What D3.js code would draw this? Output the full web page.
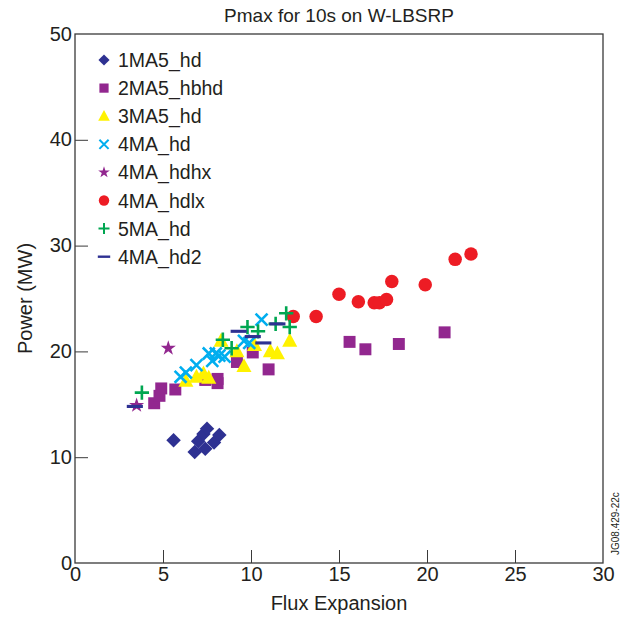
<!DOCTYPE html>
<html>
<head>
<meta charset="utf-8">
<script src="https://cdn.jsdelivr.net/npm/d3@7"></script>
<style>
  body { margin: 0; background: #fff; }
  text { font-family: "Liberation Sans", Arial, sans-serif; fill: #231f20; }
</style>
</head>
<body>
<svg id="chart" width="626" height="619"></svg>
<script>
// series data: [flux expansion, power MW]
const ma1Hd = [[5.6, 11.6], [6.8, 10.5], [7.0, 11.5], [7.3, 12.2], [7.5, 12.7], [7.4, 10.8], [7.9, 11.4], [8.2, 12.1]]
const ma2Hbhd = [[4.5, 15.1], [4.8, 15.8], [4.9, 16.5], [5.7, 16.4], [7.4, 17.3], [8.1, 17.0], [8.1, 17.4], [9.2, 19.0], [10.1, 19.9], [11.0, 18.3], [15.6, 20.9], [16.5, 20.2], [18.4, 20.7], [21.0, 21.8]]
const ma3Hd = [[6.3, 17.2], [6.9, 17.6], [7.3, 17.9], [7.6, 17.5], [8.3, 21.0], [9.2, 20.0], [9.6, 18.6], [10.2, 20.6], [11.1, 20.0], [11.5, 19.8], [12.2, 21.0]]
const ma4Hd = [[6.0, 17.6], [6.3, 18.0], [6.9, 18.7], [7.6, 19.8], [7.8, 19.1], [8.0, 19.8], [8.2, 19.6], [8.5, 19.5], [9.6, 21.0], [9.9, 20.8], [10.6, 23.0]]
const ma4Hdhx = [[3.5, 14.9], [5.3, 20.3]]
const ma4Hdlx = [[12.4, 23.3], [13.7, 23.3], [15.0, 25.4], [16.1, 24.7], [17.0, 24.6], [17.3, 24.6], [17.7, 24.9], [18.0, 26.6], [19.9, 26.3], [21.6, 28.7], [22.5, 29.2]]
const ma5Hd = [[3.8, 16.1], [8.4, 21.1], [8.9, 20.3], [9.8, 22.3], [10.4, 21.9], [11.4, 22.6], [12.0, 23.6], [12.2, 22.3]]
const ma4Hd2 = [[3.4, 14.8], [9.3, 21.9], [10.1, 21.4], [10.7, 20.8], [11.5, 22.6]]

const seriesNames = ['1MA5_hd', '2MA5_hbhd', '3MA5_hd', '4MA_hd', '4MA_hdhx', '4MA_hdlx', '5MA_hd', '4MA_hd2']
const xTicks = [0, 5, 10, 15, 20, 25, 30]
const yTicks = [0, 10, 20, 30, 40, 50]

const series = [
  { name: seriesNames[0], data: ma1Hd, shape: 'diamond', color: '#2e3192' },
  { name: seriesNames[1], data: ma2Hbhd, shape: 'square', color: '#92278f' },
  { name: seriesNames[2], data: ma3Hd, shape: 'triangle', color: '#fff200' },
  { name: seriesNames[3], data: ma4Hd, shape: 'cross', color: '#00aeef' },
  { name: seriesNames[4], data: ma4Hdhx, shape: 'star', color: '#92278f' },
  { name: seriesNames[5], data: ma4Hdlx, shape: 'circle', color: '#ed1c24' },
  { name: seriesNames[6], data: ma5Hd, shape: 'plus', color: '#00a651' },
  { name: seriesNames[7], data: ma4Hd2, shape: 'dash', color: '#2e3192' }
]

const margin = { left: 75, right: 23, top: 34, bottom: 56 }
const width = 626
const height = 619

const svg = d3.select('#chart')

const x = d3.scaleLinear().domain([0, 30]).range([margin.left, width - margin.right])
const y = d3.scaleLinear().domain([0, 50]).range([height - margin.bottom, margin.top])

// frame
svg.append('rect')
  .attr('x', x(0))
  .attr('y', y(50))
  .attr('width', x(30) - x(0))
  .attr('height', y(0) - y(50))
  .attr('fill', 'none')
  .attr('stroke', '#3a3a3a')
  .attr('stroke-width', 1.3)

// axes with inward ticks
const xAxis = svg.append('g')
  .attr('transform', `translate(0,${y(0)})`)
  .call(d3.axisBottom(x).tickValues(xTicks).tickSize(-13).tickPadding(4))
xAxis.select('.domain').remove()
xAxis.selectAll('line').attr('stroke', '#3a3a3a')
xAxis.selectAll('text').attr('font-size', 20).attr('dy', '0.71em')
xAxis.selectAll('.tick').filter(d => d === 0 || d === 30).select('line').remove()

const yAxis = svg.append('g')
  .attr('transform', `translate(${x(0)},0)`)
  .call(d3.axisLeft(y).tickValues(yTicks).tickSize(-13).tickPadding(3))
yAxis.select('.domain').remove()
yAxis.selectAll('line').attr('stroke', '#3a3a3a')
yAxis.selectAll('text').attr('font-size', 20).attr('dy', '0.3em')
yAxis.selectAll('.tick').filter(d => d === 0 || d === 50).select('line').remove()

// titles
svg.append('text')
  .attr('x', (x(0) + x(30)) / 2)
  .attr('y', 22)
  .attr('text-anchor', 'middle')
  .attr('font-size', 19)
  .text('Pmax for 10s on W-LBSRP')

svg.append('text')
  .attr('x', (x(0) + x(30)) / 2)
  .attr('y', 610)
  .attr('text-anchor', 'middle')
  .attr('font-size', 20)
  .text('Flux Expansion')

svg.append('text')
  .attr('transform', `translate(32,${(y(0) + y(50)) / 2}) rotate(-90)`)
  .attr('text-anchor', 'middle')
  .attr('font-size', 20)
  .text('Power (MW)')

svg.append('text')
  .attr('transform', `translate(619,${y(0) - 8}) rotate(-90)`)
  .attr('font-size', 10)
  .text('JG08.429-22c')

function drawMarker (g, shape, color, size) {
  const s = size
  if (shape === 'diamond') {
    g.append('path').attr('d', d3.symbol(d3.symbolSquare, s * s * 0.62)()).attr('transform', 'rotate(45)').attr('fill', color)
  } else if (shape === 'square') {
    g.append('rect').attr('x', -s * 0.46).attr('y', -s * 0.46).attr('width', s * 0.92).attr('height', s * 0.92).attr('fill', color)
  } else if (shape === 'triangle') {
    g.append('path').attr('d', `M0,${-s * 0.62}L${s * 0.58},${s * 0.45}L${-s * 0.58},${s * 0.45}Z`).attr('fill', color)
  } else if (shape === 'circle') {
    g.append('circle').attr('r', s * 0.52).attr('fill', color)
  } else if (shape === 'star') {
    g.append('path').attr('d', d3.symbol(d3.symbolStar, s * s * 0.42)()).attr('fill', color)
  } else if (shape === 'cross') {
    const h = s * 0.46
    g.append('path').attr('d', `M${-h},${-h}L${h},${h}M${-h},${h}L${h},${-h}`)
      .attr('stroke', color).attr('stroke-width', s * 0.2).attr('fill', 'none')
  } else if (shape === 'plus') {
    const h = s * 0.55
    g.append('path').attr('d', `M${-h},0L${h},0M0,${-h}L0,${h}`)
      .attr('stroke', color).attr('stroke-width', s * 0.2).attr('fill', 'none')
  } else if (shape === 'dash') {
    const h = s * 0.62
    g.append('path').attr('d', `M${-h},0L${h},0`)
      .attr('stroke', color).attr('stroke-width', s * 0.24).attr('fill', 'none')
  }
}

// points
series.forEach(function (sr) {
  svg.append('g')
    .selectAll('g')
    .data(sr.data)
    .join('g')
    .attr('transform', d => `translate(${x(d[0])},${y(d[1])})`)
    .each(function () {
      drawMarker(d3.select(this), sr.shape, sr.color, 13)
    })
})

// legend
const legend = svg.append('g')
  .selectAll('g')
  .data(series)
  .join('g')
  .attr('transform', (d, i) => `translate(104,${60 + i * 28.1})`)

legend.each(function (d) {
  drawMarker(d3.select(this), d.shape, d.color, 10)
})

legend.append('text')
  .attr('x', 14)
  .attr('dy', '0.36em')
  .attr('font-size', 19.5)
  .text(d => d.name)
</script>
</body>
</html>
